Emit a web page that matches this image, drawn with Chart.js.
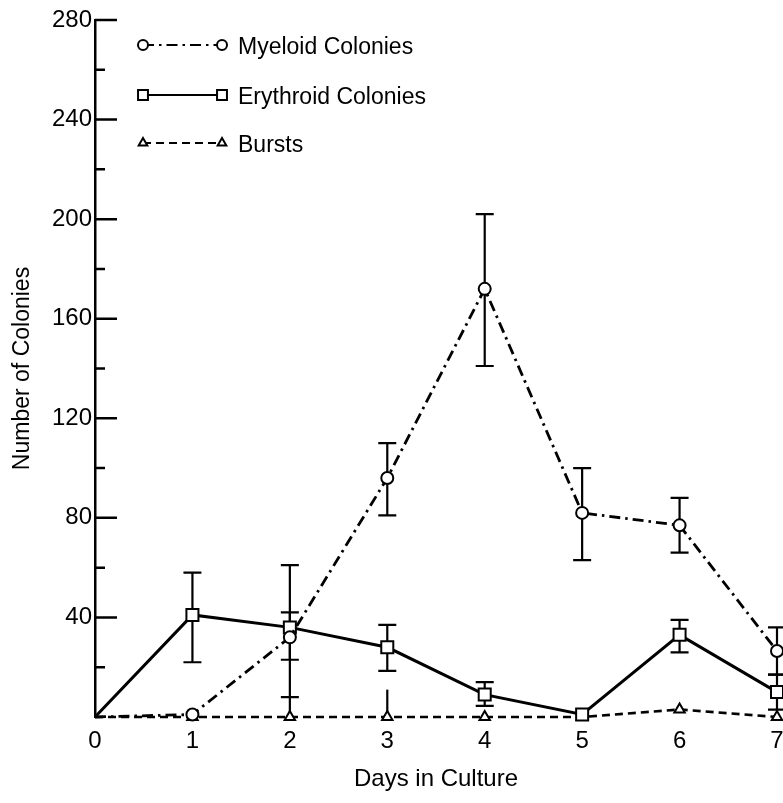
<!DOCTYPE html>
<html>
<head>
<meta charset="utf-8">
<script src="https://cdn.jsdelivr.net/npm/chart.js@4.4.1/dist/chart.umd.min.js"></script>
<style>
  html, body { margin: 0; padding: 0; background: #fff; }
  #wrap { width: 783px; height: 803px; }
</style>
</head>
<body>
<div id="wrap"><canvas id="colonyChart" width="783" height="803"></canvas></div>
<script>
// Days in culture and colony counts per day
const days = [0, 1, 2, 3, 4, 5, 6, 7];
const myeloid = [0, 1, 32, 96, 172, 82, 77, 26.5];
const erythroid = [0, 41, 36, 28, 9, 1, 33, 10];
const bursts = [0, 0, 0, 0, 0, 0, 3, 0];

// Error bar limits (null = no bar)
const myeloidLo = [null, null, 23, 81, 141, 63, 66, 17];
const myeloidHi = [null, null, 42, 110, 202, 100, 88, 36];
const erythroidLo = [null, 22, 8, 18.5, 4.5, null, 26, 3];
const erythroidHi = [null, 58, 61, 37, 14, null, 39, 17];
const burstsLo = [null, null, 0, 0, null, null, null, null];
const burstsHi = [null, null, 8, 11, null, null, null, null];

// Axis ticks
const yTickLabels = [40, 80, 120, 160, 200, 240, 280];
const yMinorTicks = [20, 60, 100, 140, 180, 220, 260];

const FONT = "'Liberation Sans', Arial, sans-serif";

// Error bars drawn under the markers
const errorBars = {
  id: 'errorBars',
  beforeDatasetsDraw(chart) {
    const { ctx, scales: { x, y } } = chart;
    ctx.save();
    ctx.strokeStyle = '#000';
    ctx.lineWidth = 2.2;
    chart.data.datasets.forEach(ds => {
      ds.errLo.forEach((lo, i) => {
        const hi = ds.errHi[i];
        if (lo === null || hi === null) return;
        const px = x.getPixelForValue(days[i]);
        const y1 = y.getPixelForValue(lo);
        const y2 = y.getPixelForValue(hi);
        ctx.beginPath();
        ctx.moveTo(px, y1);
        ctx.lineTo(px, y2);
        if (ds.caps) {
          ctx.moveTo(px - 9, y1); ctx.lineTo(px + 9, y1);
          ctx.moveTo(px - 9, y2); ctx.lineTo(px + 9, y2);
        }
        ctx.stroke();
      });
    });
    ctx.restore();
  }
};

// Inward ticks on the vertical axis
const spineTicks = {
  id: 'spineTicks',
  afterDraw(chart) {
    const { ctx, scales: { y }, chartArea } = chart;
    ctx.save();
    ctx.strokeStyle = '#000';
    ctx.lineWidth = 2.5;
    ctx.beginPath();
    yTickLabels.forEach(v => {
      const py = y.getPixelForValue(v);
      ctx.moveTo(chartArea.left, py);
      ctx.lineTo(chartArea.left + 22, py);
    });
    yMinorTicks.forEach(v => {
      const py = y.getPixelForValue(v);
      ctx.moveTo(chartArea.left, py);
      ctx.lineTo(chartArea.left + 10, py);
    });
    ctx.stroke();
    ctx.restore();
  }
};

// Key in the upper left: line sample with a marker at each end
const keyBox = {
  id: 'keyBox',
  afterDraw(chart) {
    const { ctx } = chart;
    const rows = [45, 95, 143];
    const x1 = 143, x2 = 222;
    ctx.save();
    chart.data.datasets.forEach((ds, k) => {
      const ry = rows[k];
      ctx.strokeStyle = '#000';
      ctx.lineWidth = 2.2;
      ctx.setLineDash(ds.borderDash || []);
      ctx.beginPath();
      ctx.moveTo(x1, ry);
      ctx.lineTo(x2, ry);
      ctx.stroke();
      ctx.setLineDash([]);
      ctx.fillStyle = '#fff';
      ctx.lineWidth = 2;
      [x1, x2].forEach(px => {
        Chart.helpers.drawPoint(ctx, {
          pointStyle: ds.pointStyle, radius: ds.keyRadius, rotation: 0, borderWidth: 2
        }, px, ry);
      });
      ctx.fillStyle = '#000';
      ctx.font = '23px ' + FONT;
      ctx.textBaseline = 'middle';
      ctx.textAlign = 'left';
      ctx.fillText(ds.label, 238, ry + 3);
    });
    ctx.restore();
  }
};

const noFirst = r => days.map((d, i) => (i === 0 ? 0 : r));

const datasets = [
  {
    label: 'Myeloid Colonies',
    data: myeloid,
    errLo: myeloidLo, errHi: myeloidHi, caps: true,
    borderColor: '#000', borderWidth: 2.8,
    borderDash: [11, 5, 2.5, 5],
    pointStyle: 'circle', pointRadius: noFirst(6), keyRadius: 5,
    pointBackgroundColor: '#fff', pointBorderColor: '#000', pointBorderWidth: 2,
    clip: false
  },
  {
    label: 'Erythroid Colonies',
    data: erythroid,
    errLo: erythroidLo, errHi: erythroidHi, caps: true,
    borderColor: '#000', borderWidth: 3,
    borderDash: [],
    pointStyle: 'rect', pointRadius: noFirst(8.5), keyRadius: 7,
    pointBackgroundColor: '#fff', pointBorderColor: '#000', pointBorderWidth: 2,
    clip: false
  },
  {
    label: 'Bursts',
    data: bursts,
    errLo: burstsLo, errHi: burstsHi, caps: false,
    borderColor: '#000', borderWidth: 2.6,
    borderDash: [8, 5],
    pointStyle: 'triangle', pointRadius: noFirst(6), keyRadius: 5,
    pointBackgroundColor: '#fff', pointBorderColor: '#000', pointBorderWidth: 2,
    clip: false
  }
];

const ctx = document.getElementById('colonyChart').getContext('2d');

new Chart(ctx, {
  type: 'line',
  data: {
    labels: days,
    datasets: datasets.map(ds => ({
      ...ds,
      data: ds.data.map((v, i) => ({ x: days[i], y: v })),
      tension: 0,
      fill: false
    }))
  },
  options: {
    responsive: false,
    animation: false,
    layout: { autoPadding: false, padding: { top: 20, right: 6, bottom: 0, left: 0 } },
    plugins: {
      legend: { display: false },
      tooltip: { enabled: false }
    },
    scales: {
      x: {
        type: 'linear',
        min: 0,
        max: 7,
        afterFit: s => { s.height = 86; s.paddingRight = 0; s.paddingLeft = 0; },
        grid: { display: true, drawOnChartArea: false, drawTicks: false },
        border: { display: false },
        ticks: {
          stepSize: 1,
          padding: 10,
          color: '#000',
          font: { family: FONT, size: 24 }
        },
        title: {
          display: true,
          text: 'Days in Culture',
          color: '#000',
          font: { family: FONT, size: 24 },
          padding: { top: 0, bottom: 9 }
        }
      },
      y: {
        min: 0,
        max: 280,
        afterFit: s => { s.width = 95; },
        grid: { display: true, drawOnChartArea: false, drawTicks: false },
        border: { display: true, color: '#000', width: 2.5 },
        afterBuildTicks: s => { s.ticks = [0].concat(yTickLabels).map(v => ({ value: v })); },
        ticks: {
          padding: 3,
          color: '#000',
          font: { family: FONT, size: 24 },
          callback: v => (v === 0 ? '' : v)
        },
        title: {
          display: true,
          text: 'Number of Colonies',
          color: '#000',
          font: { family: FONT, size: 23 },
          padding: { top: 9, bottom: 0 }
        }
      }
    }
  },
  plugins: [errorBars, spineTicks, keyBox]
});
</script>
</body>
</html>
